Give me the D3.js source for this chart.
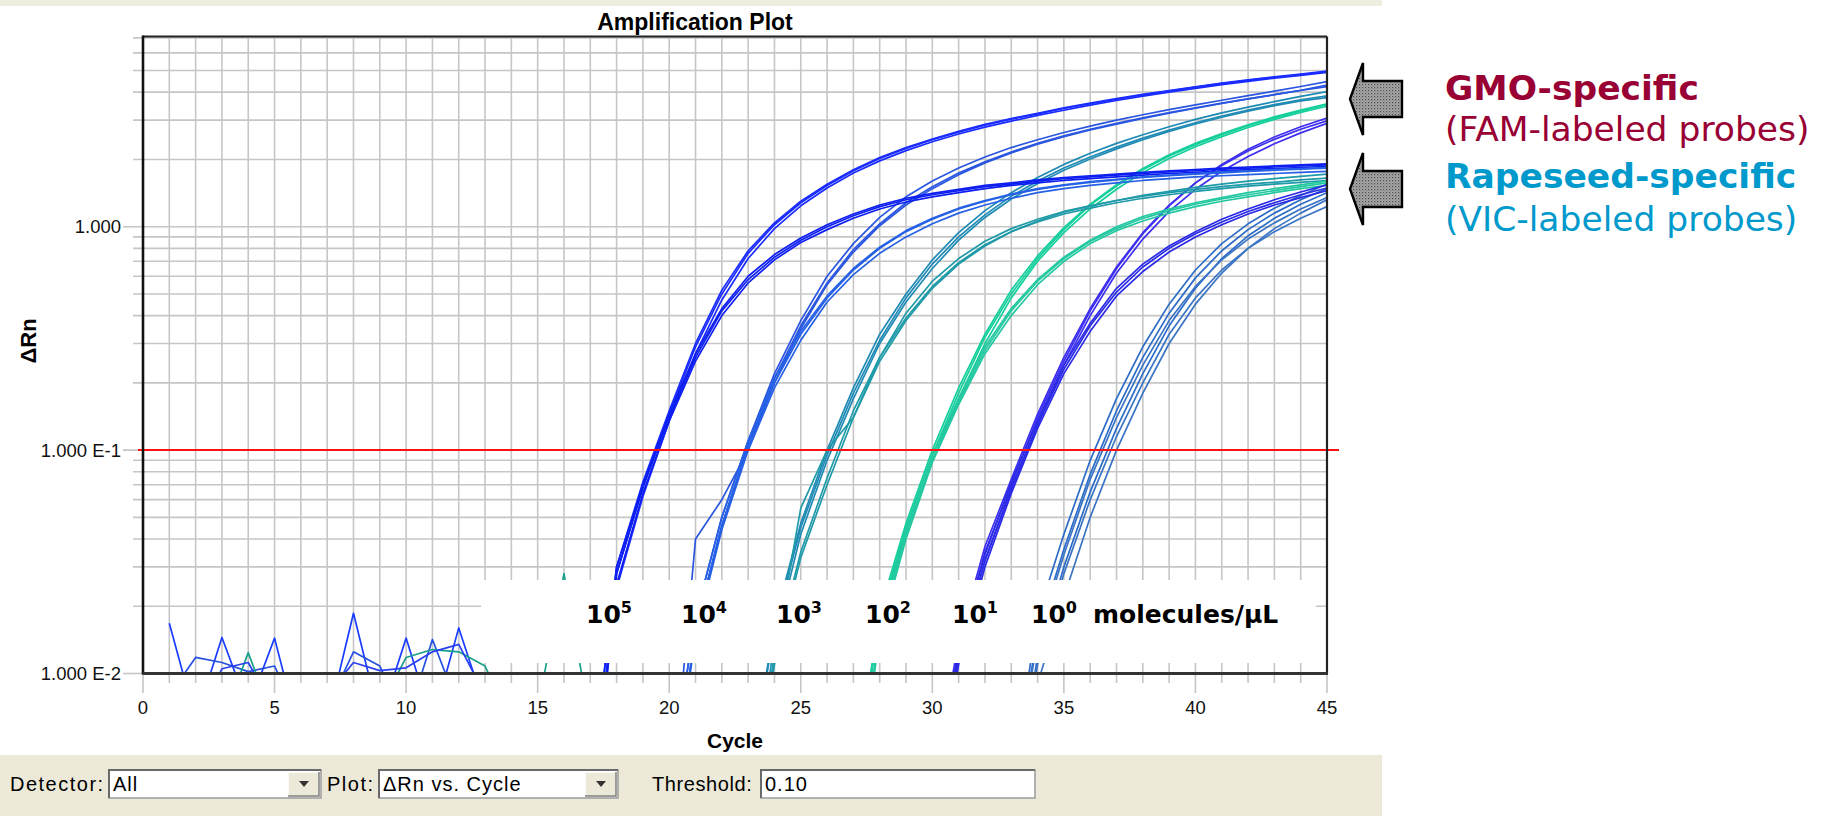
<!DOCTYPE html>
<html><head><meta charset="utf-8">
<script src="https://cdn.jsdelivr.net/npm/d3@7"></script>
<style>body{margin:0;background:#fff;}svg{display:block}</style>
</head><body>
<svg id="chart" width="1836" height="816"></svg>
<script>
// ---------------- DATA ----------------
const chartTitle = "Amplification Plot";
const xTicks = [0,5,10,15,20,25,30,35,40,45];
const yMajorTicks = [1, 0.1, 0.01];
const yMajorLabels = ["1.000", "1.000 E-1", "1.000 E-2"];
const threshold = 0.10;
const dilutionExponents = ["5","4","3","2","1","0"];
const groupStartCycle = [17, 20, 23, 27, 30, 33];

// GMO-specific (FAM) replicates, values per cycle from groupStartCycle
const fam1e5 = [
 [0.002,0.028,0.068,0.145,0.29,0.50,0.76,1.02,1.28,1.53,1.78,2.02,2.24,2.45,2.65,2.85,3.03,3.2,3.38,3.55,3.72,3.89,4.05,4.21,4.37,4.52,4.66,4.8,4.95],
 [0.002,0.024,0.062,0.135,0.27,0.47,0.72,0.98,1.24,1.49,1.74,1.97,2.19,2.4,2.6,2.79,2.97,3.15,3.32,3.5,3.67,3.84,4.0,4.16,4.32,4.47,4.62,4.76,4.9],
 [0.003,0.03,0.072,0.15,0.3,0.52,0.78,1.04,1.3,1.55,1.8,2.04,2.26,2.47,2.67,2.87,3.05,3.22,3.4,3.57,3.74,3.91,4.07,4.23,4.39,4.54,4.68,4.82,4.97]
];
const fam1e4 = [
 [0.003,0.018,0.05,0.11,0.22,0.38,0.6,0.84,1.1,1.36,1.6,1.83,2.05,2.26,2.45,2.64,2.82,3.0,3.17,3.34,3.51,3.68,3.86,4.04,4.24,4.46],
 [0.002,0.016,0.046,0.105,0.21,0.36,0.56,0.79,1.03,1.28,1.51,1.74,1.95,2.16,2.36,2.55,2.73,2.9,3.07,3.24,3.4,3.57,3.73,3.9,4.07,4.24],
 [0.002,0.04,0.06,0.1,0.2,0.35,0.55,0.77,1.01,1.25,1.48,1.71,1.93,2.14,2.34,2.53,2.71,2.88,3.05,3.22,3.39,3.56,3.73,3.9,4.08,4.3]
];
const fam1e3 = [
 [0.003,0.016,0.045,0.095,0.18,0.31,0.48,0.68,0.9,1.13,1.37,1.6,1.83,2.05,2.27,2.49,2.71,2.92,3.13,3.33,3.52,3.7,3.85],
 [0.003,0.017,0.047,0.1,0.19,0.33,0.5,0.71,0.94,1.18,1.42,1.66,1.9,2.13,2.36,2.58,2.8,3.02,3.23,3.43,3.63,3.83,4.02],
 [0.002,0.014,0.042,0.09,0.17,0.3,0.46,0.65,0.87,1.1,1.33,1.56,1.79,2.01,2.23,2.45,2.67,2.88,3.09,3.29,3.48,3.66,3.78]
];
const fam1e2 = [
 [0.003,0.018,0.045,0.095,0.18,0.32,0.5,0.72,0.97,1.25,1.52,1.8,2.07,2.33,2.58,2.83,3.07,3.3,3.52],
 [0.003,0.019,0.047,0.1,0.19,0.33,0.52,0.74,0.99,1.26,1.54,1.82,2.1,2.36,2.61,2.86,3.1,3.33,3.55],
 [0.002,0.016,0.042,0.09,0.17,0.3,0.48,0.7,0.94,1.2,1.47,1.75,2.02,2.28,2.53,2.78,3.02,3.25,3.46]
];
const fam1e1 = [
 [0.003,0.013,0.035,0.07,0.14,0.25,0.42,0.65,0.93,1.24,1.57,1.9,2.22,2.52,2.8,3.06],
 [0.002,0.012,0.032,0.066,0.13,0.24,0.4,0.62,0.88,1.17,1.47,1.77,2.06,2.35,2.63,2.9],
 [0.003,0.014,0.037,0.074,0.145,0.26,0.43,0.66,0.94,1.25,1.57,1.88,2.18,2.46,2.73,2.98]
];
const fam1e0 = [
 [0.003,0.018,0.042,0.09,0.17,0.29,0.45,0.64,0.84,1.03,1.21,1.38,1.55],
 [0.003,0.015,0.036,0.078,0.15,0.26,0.41,0.59,0.78,0.97,1.15,1.32,1.48],
 [0.002,0.012,0.03,0.065,0.125,0.22,0.36,0.53,0.72,0.91,1.09,1.26,1.42]
];
// Rapeseed-specific (VIC) replicates
const vic1e5 = [
 [0.002,0.028,0.068,0.14,0.26,0.42,0.58,0.73,0.87,1.0,1.12,1.23,1.32,1.39,1.45,1.51,1.55,1.6,1.64,1.67,1.7,1.73,1.76,1.78,1.81,1.83,1.85,1.87,1.89],
 [0.002,0.025,0.064,0.135,0.25,0.4,0.56,0.71,0.85,0.97,1.09,1.2,1.29,1.36,1.42,1.48,1.53,1.57,1.61,1.64,1.67,1.7,1.73,1.75,1.78,1.8,1.82,1.84,1.86],
 [0.003,0.03,0.07,0.145,0.27,0.43,0.6,0.75,0.89,1.02,1.14,1.25,1.34,1.41,1.47,1.53,1.57,1.62,1.66,1.69,1.72,1.75,1.78,1.8,1.83,1.85,1.87,1.89,1.91]
];
const vic1e4 = [
 [0.002,0.016,0.046,0.105,0.2,0.33,0.48,0.64,0.8,0.95,1.08,1.2,1.3,1.39,1.47,1.53,1.58,1.62,1.66,1.69,1.72,1.74,1.77,1.79,1.81,1.83],
 [0.002,0.015,0.044,0.1,0.19,0.31,0.46,0.61,0.76,0.9,1.03,1.15,1.25,1.34,1.42,1.48,1.53,1.57,1.61,1.64,1.67,1.69,1.71,1.73,1.75,1.77],
 [0.003,0.018,0.05,0.11,0.21,0.34,0.49,0.65,0.81,0.96,1.09,1.21,1.31,1.4,1.48,1.54,1.59,1.63,1.67,1.7,1.73,1.76,1.78,1.8,1.82,1.84]
];
const vic1e3 = [
 [0.002,0.012,0.055,0.1,0.14,0.26,0.41,0.57,0.72,0.86,0.98,1.08,1.17,1.24,1.31,1.37,1.42,1.47,1.51,1.55,1.58,1.62,1.65],
 [0.002,0.012,0.035,0.075,0.15,0.26,0.39,0.54,0.69,0.83,0.95,1.05,1.14,1.21,1.28,1.34,1.39,1.44,1.48,1.52,1.55,1.58,1.61],
 [0.002,0.011,0.033,0.07,0.14,0.25,0.38,0.53,0.68,0.82,0.95,1.06,1.16,1.24,1.31,1.38,1.44,1.5,1.55,1.6,1.64,1.68,1.72]
];
const vic1e2 = [
 [0.002,0.016,0.042,0.09,0.165,0.28,0.42,0.57,0.72,0.86,0.98,1.09,1.18,1.26,1.33,1.39,1.45,1.51,1.57],
 [0.002,0.015,0.04,0.088,0.16,0.27,0.4,0.55,0.7,0.84,0.96,1.06,1.15,1.23,1.3,1.36,1.42,1.48,1.53],
 [0.003,0.017,0.044,0.095,0.17,0.29,0.43,0.58,0.73,0.87,1.0,1.11,1.2,1.28,1.35,1.42,1.48,1.54,1.6]
];
const vic1e1 = [
 [0.002,0.012,0.032,0.068,0.13,0.23,0.36,0.51,0.66,0.8,0.93,1.05,1.17,1.28,1.39,1.49],
 [0.002,0.011,0.03,0.064,0.125,0.22,0.34,0.49,0.63,0.77,0.9,1.02,1.14,1.25,1.35,1.45],
 [0.002,0.013,0.034,0.072,0.135,0.24,0.37,0.53,0.68,0.82,0.95,1.08,1.2,1.32,1.43,1.54]
];
const vic1e0 = [
 [0.002,0.011,0.028,0.06,0.115,0.2,0.33,0.48,0.64,0.8,0.95,1.09,1.23],
 [0.003,0.014,0.034,0.074,0.14,0.24,0.38,0.54,0.71,0.88,1.04,1.2,1.35],
 [0.002,0.009,0.022,0.05,0.1,0.18,0.3,0.45,0.62,0.8,0.98,1.15,1.32]
];
const famGroups = [fam1e5, fam1e4, fam1e3, fam1e2, fam1e1, fam1e0];
const vicGroups = [vic1e5, vic1e4, vic1e3, vic1e2, vic1e1, vic1e0];
const famColors = ["#1a2cff", "#2a56e0", "#1f8bb5", "#14cf9c", "#3d2ef0", "#2c6cc8"];
const vicColors = ["#0d1ef0", "#2560e6", "#1e9aa8", "#22c8a0", "#2a2ae6", "#3a74c4"];

// baseline noise, cycles 1..n
const noiseA = [0.0168,0.0062,0.0145,0.007,0.0144,0.005,0.006,0.0186,0.0062,0.0144,0.006,0.016,0.007,0.005];
const noiseB = [0.008,0.0118,0.0112,0.0102,0.0108,0.006,0.007,0.0125,0.0108,0.006,0.0142,0.007,0.0098,0.005];
const noiseC = [0.006,0.007,0.006,0.0124,0.006,0.007,0.006,0.0095,0.007,0.0118,0.0128,0.0125,0.0108,0.006,0.007,0.028,0.006];
const noiseD = [0.009,0.006,0.0105,0.0112,0.0068,0.007,0.008,0.0112,0.0103,0.0106,0.0125,0.0135,0.008,0.006];
const noiseSeries = [noiseA, noiseB, noiseC, noiseD];
const noiseColors = ["#1a3cff", "#2550e0", "#1aa08a", "#2a40f0"];

// ---------------- DRAW ----------------
const svg = d3.select("#chart");
const P = {left:143, right:1327, top:36.5, bottom:673.5};
const x = d3.scaleLinear().domain([0,45]).range([P.left, P.right]);
const y = d3.scaleLog().domain([0.01, 7.1]).range([P.bottom, P.top]);

const defs = svg.append("defs");
defs.append("clipPath").attr("id","plotclip").append("rect")
  .attr("x",P.left).attr("y",P.top).attr("width",P.right-P.left).attr("height",P.bottom-P.top);
const pat = defs.append("pattern").attr("id","stip").attr("width",3).attr("height",3).attr("patternUnits","userSpaceOnUse");
pat.append("rect").attr("width",3).attr("height",3).attr("fill","#a9a9a9");
pat.append("rect").attr("width",1.2).attr("height",1.2).attr("fill","#4a4a4a");
pat.append("rect").attr("x",1.5).attr("y",1.5).attr("width",1).attr("height",1).attr("fill","#6a6a6a");

// window chrome bars
svg.append("rect").attr("x",0).attr("y",0).attr("width",1382).attr("height",6).attr("fill","#EFECE0");
svg.append("rect").attr("x",0).attr("y",755).attr("width",1382).attr("height",61).attr("fill","#ECE9D8");

// title
svg.append("text").attr("x",695).attr("y",30).attr("text-anchor","middle")
  .attr("font-family","Liberation Sans, Arial, sans-serif").attr("font-weight","bold").attr("font-size",23)
  .attr("fill","#000").text(chartTitle);

// grid
const grid = svg.append("g");
const yGridVals = y.ticks().filter(v => v > 0.0100001);
grid.selectAll("line.hg").data(yGridVals).join("line")
  .attr("x1", d => yMajorTicks.some(m => Math.abs(m-d)<1e-9) ? 123 : 133)
  .attr("x2", P.right).attr("y1", d => y(d)).attr("y2", d => y(d))
  .attr("stroke","#c6c6c6").attr("stroke-width",1.6);
grid.append("line").attr("x1",123).attr("x2",P.left).attr("y1",y(0.01)).attr("y2",y(0.01))
  .attr("stroke","#c6c6c6").attr("stroke-width",1.6);
const xGridVals = d3.range(0,46);
grid.selectAll("line.vg").data(xGridVals).join("line")
  .attr("x1", d => x(d)).attr("x2", d => x(d))
  .attr("y1", P.top).attr("y2", d => d % 5 === 0 ? 693 : 683)
  .attr("stroke","#c6c6c6").attr("stroke-width",1.6);

// curves
const line = d3.line().x(d => x(d[0])).y(d => y(d[1]));
const curves = svg.append("g").attr("clip-path","url(#plotclip)");
const series = [];
noiseSeries.forEach((arr,i) => series.push({pts: arr.map((v,k)=>[k+1, v]), color: noiseColors[i]}));
famGroups.forEach((grp,g) => grp.forEach(arr => series.push({pts: arr.map((v,k)=>[groupStartCycle[g]+k, v]), color: famColors[g]})));
vicGroups.forEach((grp,g) => grp.forEach(arr => series.push({pts: arr.map((v,k)=>[groupStartCycle[g]+k, v]), color: vicColors[g]})));
curves.selectAll("path").data(series).join("path")
  .attr("d", d => line(d.pts)).attr("fill","none")
  .attr("stroke", d => d.color).attr("stroke-width",1.7).attr("stroke-linejoin","round");

// threshold line
svg.append("line").attr("x1",138).attr("x2",1339).attr("y1",y(threshold)).attr("y2",y(threshold))
  .attr("stroke","#ff1010").attr("stroke-width",2);

// dilution annotation box
svg.append("rect").attr("x",481).attr("y",580).attr("width",1316-481).attr("height",83).attr("fill","#fff");
const labelX = [586, 681, 776, 865, 952, 1031];
const ann = svg.append("g").attr("font-family","DejaVu Sans, Verdana, sans-serif").attr("font-weight","bold").attr("fill","#000");
dilutionExponents.forEach((e,i) => {
  const t = ann.append("text").attr("x",labelX[i]).attr("y",623).attr("font-size",25);
  t.append("tspan").text("10");
  t.append("tspan").attr("font-size",16).attr("dy",-10).text(e);
});
ann.append("text").attr("x",1093).attr("y",623).attr("font-size",25).text("molecules/µL");

// axes frame
svg.append("line").attr("x1",P.left).attr("x2",P.right).attr("y1",P.top).attr("y2",P.top).attr("stroke","#222").attr("stroke-width",2.2);
svg.append("line").attr("x1",P.right).attr("x2",P.right).attr("y1",P.top).attr("y2",P.bottom).attr("stroke","#222").attr("stroke-width",2.2);
svg.append("line").attr("x1",P.left).attr("x2",P.left).attr("y1",P.top-1).attr("y2",P.bottom+1).attr("stroke","#111").attr("stroke-width",2.6);
svg.append("line").attr("x1",P.left).attr("x2",P.right+1).attr("y1",P.bottom).attr("y2",P.bottom).attr("stroke","#333").attr("stroke-width",3);

// tick labels
const tf = "Liberation Sans, Arial, sans-serif";
svg.append("g").selectAll("text").data(xTicks).join("text")
  .attr("x", d => x(d)).attr("y",713.5).attr("text-anchor","middle")
  .attr("font-family",tf).attr("font-size",18.5).attr("fill","#111").text(d => d);
svg.append("g").selectAll("text").data(yMajorTicks).join("text")
  .attr("x",121).attr("y", d => y(d)+6.5).attr("text-anchor","end")
  .attr("font-family",tf).attr("font-size",18.5).attr("fill","#111").text((d,i) => yMajorLabels[i]);

// axis titles
svg.append("text").attr("x",735).attr("y",748).attr("text-anchor","middle")
  .attr("font-family",tf).attr("font-weight","bold").attr("font-size",21).text("Cycle");
svg.append("text").attr("transform","translate(36,341) rotate(-90)").attr("text-anchor","middle")
  .attr("font-family",tf).attr("font-weight","bold").attr("font-size",22).text("ΔRn");

// right annotations
const arrowTips = [99, 189];
arrowTips.forEach(cy => {
  const pts = [[1350,cy],[1363,cy-36],[1363,cy-18],[1402,cy-18],[1402,cy+18],[1363,cy+18],[1363,cy+36]];
  svg.append("polygon").attr("points", pts.map(p=>p.join(",")).join(" "))
    .attr("fill","url(#stip)").attr("stroke","#000").attr("stroke-width",2.4).attr("stroke-linejoin","miter");
});
const rf = "DejaVu Sans, Verdana, sans-serif";
const notes = [
  {t:"GMO-specific", y:100, c:"#990033", w:"bold"},
  {t:"(FAM-labeled probes)", y:141, c:"#990033", w:"normal"},
  {t:"Rapeseed-specific", y:188, c:"#0099CC", w:"bold"},
  {t:"(VIC-labeled probes)", y:231, c:"#0099CC", w:"normal"}
];
svg.append("g").selectAll("text").data(notes).join("text")
  .attr("x",1445).attr("y",d=>d.y).attr("font-family",rf).attr("font-size",34.5)
  .attr("font-weight",d=>d.w).attr("fill",d=>d.c).text(d=>d.t);

// bottom toolbar
const tb = svg.append("g").attr("font-family","Liberation Sans, Arial, sans-serif").attr("font-size",20).attr("fill","#000");
function field(x0, x1, txt, withButton){
  tb.append("rect").attr("x",x0).attr("y",770).attr("width",x1-x0).attr("height",28).attr("fill","#fff").attr("stroke","#9a9a9a").attr("stroke-width",1.5);
  tb.append("path").attr("d",`M${x0},798 V770 H${x1}`).attr("fill","none").attr("stroke","#6a6a6a").attr("stroke-width",2);
  tb.append("text").attr("x",x0+4).attr("y",791).attr("letter-spacing",1).text(txt);
  if (withButton){
    const bx = x1-33;
    tb.append("rect").attr("x",bx).attr("y",772).attr("width",31).attr("height",24).attr("fill","#ECE9D8");
    tb.append("path").attr("d",`M${bx},796 V772 H${bx+31}`).attr("fill","none").attr("stroke","#fff").attr("stroke-width",1.5);
    tb.append("path").attr("d",`M${bx},796 H${bx+31} V772`).attr("fill","none").attr("stroke","#808080").attr("stroke-width",1.5);
    tb.append("path").attr("d",`M${bx+11},781 h10 l-5,6 z`).attr("fill","#333");
  }
}
tb.append("text").attr("x",10).attr("y",791).attr("letter-spacing",1.5).text("Detector:");
field(109, 321, "All", true);
tb.append("text").attr("x",327).attr("y",791).attr("letter-spacing",1.5).text("Plot:");
field(379, 618, "ΔRn vs. Cycle", true);
tb.append("text").attr("x",652).attr("y",791).attr("letter-spacing",0.6).text("Threshold:");
field(761, 1035, "0.10", false);
</script>
</body></html>
